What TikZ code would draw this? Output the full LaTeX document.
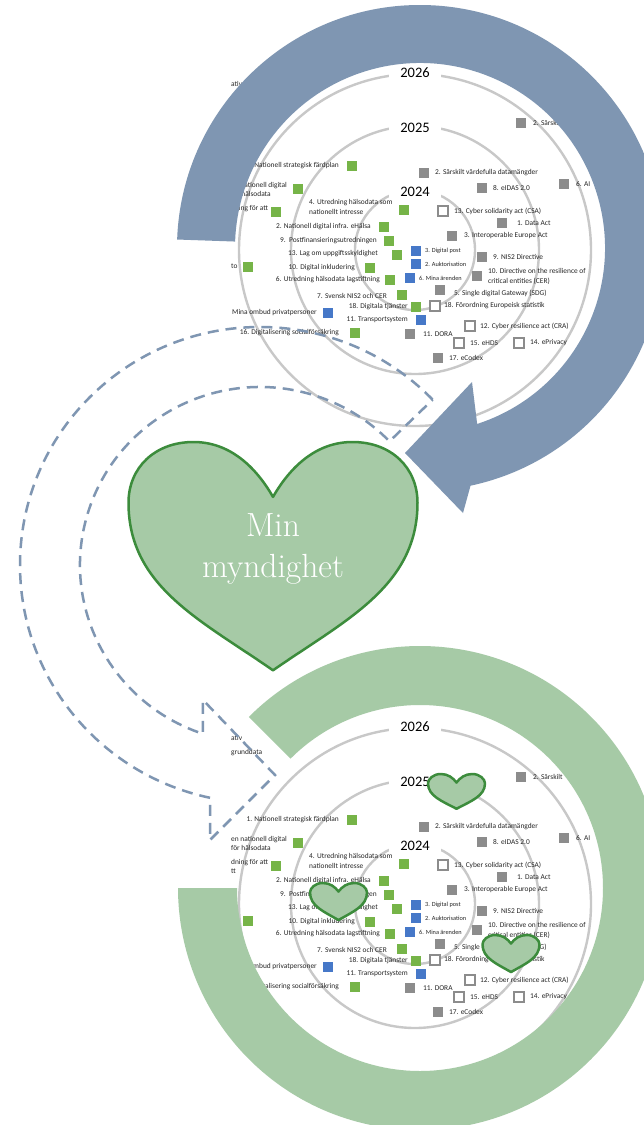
\documentclass[tikz,border=0pt]{standalone}
\usepackage{fontspec}
\newfontfamily\carl{Carlito}
\definecolor{annblue}{RGB}{127,150,178}
\definecolor{anngreen}{RGB}{166,202,166}
\definecolor{heartgreen}{RGB}{166,202,166}
\definecolor{heartline}{RGB}{60,140,60}
\definecolor{sqgreen}{RGB}{118,180,72}
\definecolor{sqblue}{RGB}{70,120,200}
\definecolor{sqgrey}{RGB}{140,140,140}
\definecolor{ringgrey}{RGB}{200,200,200}
\tikzset{
 lbl/.style={font=\carl\fontsize{7.4}{9.4}\selectfont, inner sep=0pt, text=black!85},
 tinylbl/.style={font=\carl\fontsize{6.3}{7.5}\selectfont, inner sep=0pt, text=black!85},
 yr/.style={font=\carl\fontsize{14.5}{16}\selectfont, fill=white, inner sep=0pt, minimum width=52pt, minimum height=15pt},
 gsq/.style={fill=sqgreen, minimum size=10.5pt, inner sep=0pt},
 bsq/.style={fill=sqblue, minimum size=10.5pt, inner sep=0pt},
 rsq/.style={fill=sqgrey, minimum size=10.5pt, inner sep=0pt},
 osq/.style={draw=sqgrey, line width=1.6pt, fill=white, minimum size=9.8pt, inner sep=0pt},
 ring/.style={draw=ringgrey, line width=2.4pt},
 dasharrow/.style={draw=annblue, line width=2.5pt, dash pattern=on 11pt off 7pt, line join=miter},
 heartfill/.style={fill=heartgreen, draw=heartline, line width=2.5pt, line join=round},
 hearttext/.style={font=\fontsize{33.5}{40}\selectfont, text=white, inner sep=0pt, anchor=base}
}
\newcommand{\drawheart}[6]{%
 \begin{scope}[shift={(#1,#2)},scale=#3]
 \path[heartfill] (0,#4) .. controls (0.12,{0.45*#4}) and (0.3,0) .. (0.55,0)
  .. controls (0.82,0) and (1,0.18) .. (1,#5)
  .. controls (1,{#5+0.5*(#6-#5)}) and (0.5,{#6-0.3*(#6-#5)}) .. (0,#6)
  .. controls (-0.5,{#6-0.3*(#6-#5)}) and (-1,{#5+0.5*(#6-#5)}) .. (-1,#5)
  .. controls (-1,0.18) and (-0.82,0) .. (-0.55,0)
  .. controls (-0.3,0) and (-0.12,{0.45*#4}) .. (0,#4) -- cycle;
 \end{scope}}
\newcommand{\drawchart}{%
 \begin{scope}
 \clip (231,-30) rectangle (700,480);
 \draw[ring] (415,250) circle[radius=176];
 \draw[ring] (415,250) circle[radius=124];
 \draw[ring] (415,250) circle[radius=60];
 \node[yr] (y26) at (415,73) {2026};
 \node[yr] (y25) at (415,128) {2025};
 \node[yr] (y24) at (415,192) {2024};
 \node[lbl,anchor=west] (f1) at (231,84) {ativ};
 \node[lbl,anchor=west] (f2) at (231,99) {grunddata};
 % green
 \node[gsq] (g1) at (352,166) {};
 \node[lbl,anchor=east] (g1t) at (339,166) {1. Nationell strategisk färdplan};
 \node[gsq] (g2) at (298,189) {};
 \node[lbl,anchor=west,align=left] (g2t) at (231,189.5) {en nationell digital\\för hälsodata};
 \node[gsq] (g3) at (276,212) {};
 \node[lbl,anchor=west,align=left] (g3t) at (231,212.5) {dning för att\\tt};
 \node[gsq] (g4) at (248,267) {};
 \node[lbl,anchor=west] (g4t) at (231,266) {to};
 \node[gsq] (g5) at (404,210) {};
 \node[lbl,anchor=west,align=left] (g5t) at (309,207) {4. Utredning hälsodata som\\nationellt intresse};
 \node[gsq] (g6) at (384,227) {};
 \node[lbl,anchor=east] (g6t) at (371,227) {2. Nationell digital infra. eHälsa};
 \node[gsq] (g7) at (389,241) {};
 \node[lbl,anchor=east] (g7t) at (377,241) {9.~~Postfinansieringsutredningen};
 \node[gsq] (g8) at (397,255) {};
 \node[lbl,anchor=east] (g8t) at (378,254) {13. Lag om uppgiftsskyldighet};
 \node[gsq] (g9) at (370,268) {};
 \node[lbl,anchor=east] (g9t) at (355,268) {10. Digital inkludering};
 \node[gsq] (g10) at (390,280) {};
 \node[lbl,anchor=east] (g10t) at (380,280) {6. Utredning hälsodata lagstiftning};
 \node[gsq] (g11) at (402,295) {};
 \node[lbl,anchor=east] (g11t) at (387,296) {7. Svensk NIS2 och CER};
 \node[gsq] (g12) at (416,307) {};
 \node[lbl,anchor=east] (g12t) at (408,307) {18. Digitala tjänster};
 \node[gsq] (g13) at (355,333) {};
 \node[lbl,anchor=east] (g13t) at (339,333) {16. Digitalisering socialförsäkring};
 % blue
 \node[bsq] (b1) at (328,313) {};
 \node[lbl,anchor=east] (b1t) at (317,313) {Mina ombud privatpersoner};
 \node[bsq] (b2) at (421,320) {};
 \node[lbl,anchor=east] (b2t) at (408,320) {11. Transportsystem};
 \node[bsq] (b3) at (416,251) {};
 \node[tinylbl,anchor=west] (b3t) at (425,251) {3. Digital post};
 \node[bsq] (b4) at (416,264) {};
 \node[tinylbl,anchor=west] (b4t) at (425,264) {2. Auktorisation};
 \node[bsq] (b5) at (410,278) {};
 \node[tinylbl,anchor=west] (b5t) at (419,278) {6. Mina ärenden};
 % grey
 \node[rsq] (r1) at (521,123) {};
 \node[lbl,anchor=west] (r1t) at (533,123) {2. Särskilt};
 \node[rsq] (r2) at (424,173) {};
 \node[lbl,anchor=west] (r2t) at (435,173) {2. Särskilt värdefulla datamängder};
 \node[rsq] (r3) at (482,188) {};
 \node[lbl,anchor=west] (r3t) at (493,188) {8. eIDAS 2.0};
 \node[rsq] (r4) at (564,184) {};
 \node[lbl,anchor=west] (r4t) at (576,184) {6. AI};
 \node[rsq] (r5) at (502,223) {};
 \node[lbl,anchor=west] (r5t) at (517,223) {1. Data Act};
 \node[rsq] (r6) at (452,236) {};
 \node[lbl,anchor=west] (r6t) at (464,236) {3. Interoperable Europe Act};
 \node[rsq] (r7) at (482,257) {};
 \node[lbl,anchor=west] (r7t) at (493,257) {9. NIS2 Directive};
 \node[rsq] (r8) at (477,276) {};
 \node[lbl,anchor=west,align=left] (r8t) at (488,276.5) {10. Directive on the resilience of\\critical entities (CER)};
 \node[rsq] (r9) at (440,290) {};
 \node[lbl,anchor=west] (r9t) at (454,293) {5. Single digital Gateway (SDG)};
 \node[rsq] (r10) at (410,334) {};
 \node[lbl,anchor=west] (r10t) at (423,334) {11. DORA};
 \node[rsq] (r11) at (438,358) {};
 \node[lbl,anchor=west] (r11t) at (449,358) {17. eCodex};
 % open
 \node[osq] (o1) at (443,211) {};
 \node[lbl,anchor=west] (o1t) at (454,211) {13. Cyber solidarity act (CSA)};
 \node[osq] (o2) at (435,306) {};
 \node[lbl,anchor=west] (o2t) at (444,306) {18. Förordning Europeisk statistik};
 \node[osq] (o3) at (470,326) {};
 \node[lbl,anchor=west] (o3t) at (480,326) {12. Cyber resilience act (CRA)};
 \node[osq] (o4) at (459,343) {};
 \node[lbl,anchor=west] (o4t) at (470,343) {15. eHDS};
 \node[osq] (o5) at (519,343) {};
 \node[lbl,anchor=west] (o5t) at (530,343) {14. ePrivacy};
 \end{scope}}
\begin{document}
\begin{tikzpicture}[x=1pt,y=-1pt]
\useasboundingbox (0,0) rectangle (644,1125);
\clip (0,0) rectangle (644,1125);
\fill[white] (0,0) rectangle (644,1125);
% charts
\begin{scope}[name prefix=t-]\drawchart\end{scope}
\begin{scope}[shift={(0,654)},name prefix=b-]\drawchart\end{scope}
\coordinate (C1) at (420,248);
\coordinate (C2) at (420,888);
\coordinate (E) at (260,565);
% blue circular arrow
\fill[annblue] ([shift={(-178:243)}]C1) arc[start angle=-178,end angle=78,radius=243]
  -- (463,513) -- (405,453) -- (472,382)
  -- ([shift={(72:185)}]C1) arc[start angle=72,end angle=-178,radius=185] -- cycle;
% green ring
\fill[anngreen] ([shift={(-135:242)}]C2) arc[start angle=-135,end angle=180,radius=242]
  -- ([shift={(180:183)}]C2) arc[start angle=180,end angle=-135,radius=183] -- cycle;
% dashed curved arrow
\draw[dasharrow] ([shift={(-44:240 and 238)}]E) arc[start angle=-44,end angle=-258,x radius=240,y radius=238]
  -- (210,840) -- (275,775) -- (203,700)
  -- ([shift={(-251.5:180 and 178)}]E) arc[start angle=-251.5,end angle=-44,x radius=180,y radius=178] -- cycle;
% big heart
\drawheart{273}{442}{144.5}{0.38}{0.42}{1.58}
\node[hearttext] (min) at (273,536) {Min};
\node[hearttext] (myn) at (273,577) {myndighet};
% small hearts
\drawheart{338.5}{883}{28.5}{0.3}{0.33}{1.3}
\drawheart{456.5}{774}{28.5}{0.3}{0.33}{1.22}
\drawheart{511}{935}{28.5}{0.3}{0.33}{1.3}
\end{tikzpicture}
\end{document}
